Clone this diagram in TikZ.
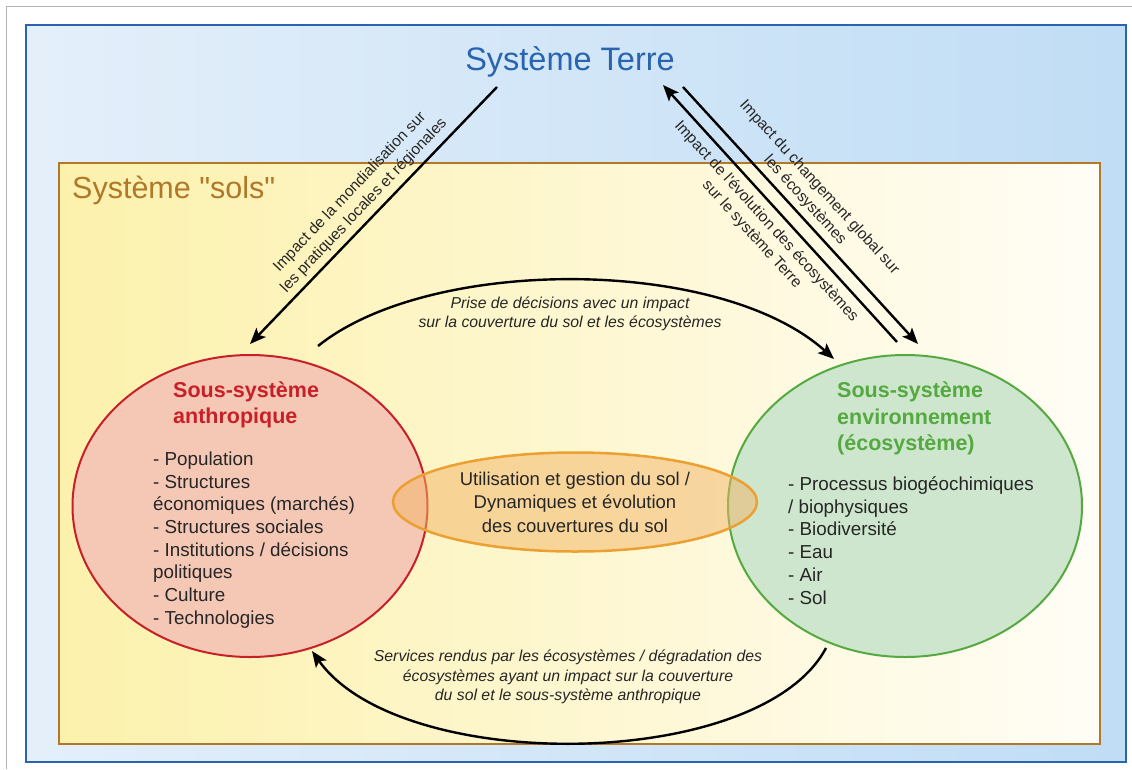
\documentclass[tikz,border=0pt]{standalone}
\usepackage{fontspec}
\setmainfont{Liberation Sans}[Ligatures=TeXOff]
\usetikzlibrary{shapes.geometric,arrows.meta,calc}
\definecolor{bluebd}{RGB}{40,100,175}
\definecolor{blueL}{RGB}{228,239,250}
\definecolor{blueR}{RGB}{192,221,245}
\definecolor{brownbd}{RGB}{176,120,40}
\definecolor{yelL}{RGB}{252,241,172}
\definecolor{yelR}{RGB}{255,253,246}
\definecolor{redfill}{RGB}{245,200,182}
\definecolor{redbd}{RGB}{200,32,40}
\definecolor{greenfill}{RGB}{206,230,205}
\definecolor{greenbd}{RGB}{84,170,64}
\definecolor{orangefill}{RGB}{242,180,100}
\definecolor{orangebd}{RGB}{236,160,50}
\begin{document}
\begin{tikzpicture}[x=1pt,y=-1pt,
  lab/.style={font=\fontsize{15.5}{19.5}\selectfont, align=center, text=black!85, inner sep=0},
  itlab/.style={font=\fontsize{15.8}{19.5}\selectfont\itshape, align=center, text=black!85, inner sep=0},
  listtxt/.style={font=\fontsize{18.8}{22.7}\selectfont, align=left, anchor=west, text=black!85, inner sep=0},
  bubble/.style={ellipse, line width=2pt, inner sep=0},
  arr/.style={line width=2.4pt, -{Stealth[length=16pt,width=13pt,inset=3.5pt]}},
  ]
\useasboundingbox (0,0) rectangle (1132,769);
\fill[white] (0,0) rectangle (1132,769);
\draw[black!30, line width=1pt] (6,769) -- (6,6) -- (1132,6);
\shade[left color=blueL, right color=blueR] (26,25) rectangle (1126,762);
\draw[bluebd, line width=2.2pt] (26,25) rectangle (1126,762);
\shade[left color=yelL, right color=yelR] (59,163) rectangle (1100,744);
\draw[brownbd, line width=2pt] (59,163) rectangle (1100,744);

\node[text=bluebd, font=\fontsize{32.5}{38}\selectfont, inner sep=2pt] (terre) at (570,62) {Système Terre};
\node[text=brownbd, font=\fontsize{30.5}{36}\selectfont, anchor=west, inner sep=0] (sols) at (72,190) {Système "sols"};

\node[bubble, draw=redbd, fill=redfill, minimum width=355pt, minimum height=302pt] (anthro) at (250,506) {};
\node[bubble, draw=greenbd, fill=greenfill, minimum width=354pt, minimum height=302pt] (env) at (905,506) {};
\node[bubble, draw=orangebd, fill=orangefill, fill opacity=0.5, draw opacity=1, line width=2.5pt, minimum width=364pt, minimum height=99pt] (usage) at (575,502) {};
\node[font=\fontsize{18.5}{23.5}\selectfont, align=center, text=black!85, inner sep=0] (usagetxt) at (usage.center) {Utilisation et gestion du sol /\\Dynamiques et évolution\\des couvertures du sol};

\node[anchor=west, align=left, text=redbd, font=\bfseries\fontsize{21.5}{26}\selectfont, inner sep=0] (anthrotitle) at (173,405) {Sous-système\\anthropique};
\node[listtxt] (anthrolist) at (153,540) {- Population\\- Structures\\économiques (marchés)\\- Structures sociales\\- Institutions / décisions\\politiques\\- Culture\\- Technologies};

\node[anchor=west, align=left, text=greenbd, font=\bfseries\fontsize{21.5}{26.5}\selectfont, inner sep=0] (envtitle) at (837,418.5) {Sous-système\\environnement\\(écosystème)};
\node[listtxt] (envlist) at (788,540.5) {- Processus biogéochimiques\\/ biophysiques\\- Biodiversité\\- Eau\\- Air\\- Sol};

% connectors
\coordinate (tA) at ($(terre.center)+(-73,25)$);
\coordinate (tB) at ($(terre.center)+(93,23)$);
\coordinate (tC) at ($(terre.center)+(113,25)$);
\coordinate (aTop) at ($(anthro.north)+(0,-10)$);
\coordinate (eTopA) at ($(env.north)+(-8,-12)$);
\coordinate (eTopB) at ($(env.north)+(13,-10)$);
\draw[arr] (tA) -- (aTop);
\draw[arr] (eTopA) -- (tB);
\draw[arr] (tC) -- (eTopB);

\coordinate (aR) at ($(anthro.north)+(68,-8)$);
\coordinate (eL) at ($(env.north)+(-71,5)$);
\draw[arr] (aR) .. controls (430,256) and (720,256) .. (eL);
\coordinate (eB) at ($(env.south)+(-79,-10)$);
\coordinate (aB) at ($(anthro.south)+(62,-7)$);
\draw[arr] (eB) .. controls (760,772) and (400,775) .. (aB);

\node[lab, rotate=46.5] (l1) at (357,199) {Impact de la mondialisation sur\\les pratiques locales et régionales};
\node[lab, rotate=-47.7] (l2) at (812,194) {Impact du changement global sur\\les écosystèmes};
\node[lab, rotate=-47.7] (l3) at (759,228) {Impact de l'évolution des écosystèmes\\sur le système Terre};
\node[itlab] (l4) at (570,314) {Prise de décisions avec un impact\\sur la couverture du sol et les écosystèmes};
\node[itlab] (l5) at (568,677) {Services rendus par les écosystèmes / dégradation des\\écosystèmes ayant un impact sur la couverture\\du sol et le sous-système anthropique};
\end{tikzpicture}
\end{document}
